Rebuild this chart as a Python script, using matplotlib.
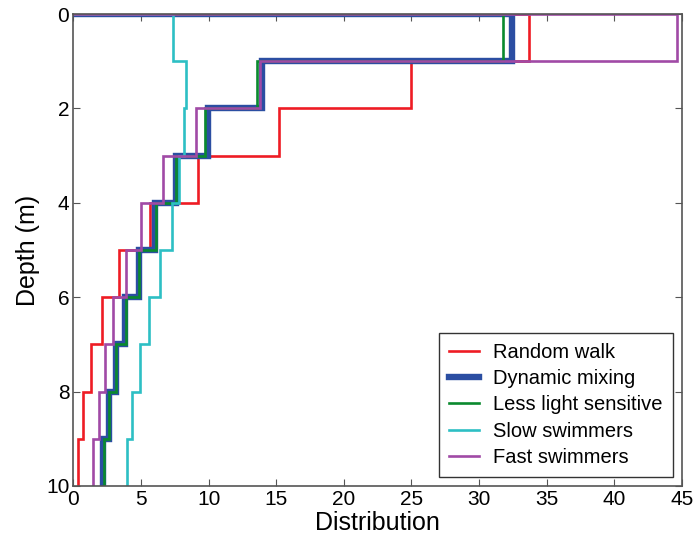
import numpy as np
import matplotlib
matplotlib.use("Agg")
import matplotlib.pyplot as plt

# --- Data: distribution per 1 m depth layer (0-1, 1-2, ..., 9-10 m) ---
depth_edges = [0, 1, 2, 3, 4, 5, 6, 7, 8, 9, 10]

random_walk = [33.7, 25.0, 15.2, 9.2, 5.65, 3.35, 2.1, 1.27, 0.71, 0.34]
dynamic_mixing = [32.4, 13.95, 9.95, 7.6, 6.03, 4.83, 3.8, 3.16, 2.6, 2.18]
less_light = [31.8, 13.6, 9.7, 7.55, 6.1, 4.83, 3.9, 3.16, 2.6, 2.23]
slow_swimmers = [7.37, 8.3, 8.18, 7.77, 7.27, 6.42, 5.56, 4.93, 4.34, 3.94]
fast_swimmers = [44.6, 13.8, 9.04, 6.6, 5.0, 3.85, 2.96, 2.3, 1.86, 1.44]

labels = ["Random walk", "Dynamic mixing", "Less light sensitive",
          "Slow swimmers", "Fast swimmers"]
series = [random_walk, dynamic_mixing, less_light, slow_swimmers, fast_swimmers]
colors = ["#ee1c24", "#2b4ea2", "#0a8a2e", "#2dbfc4", "#a04aa6"]
widths = [1.9, 4.6, 1.9, 1.9, 1.9]

plt.rcParams['font.family'] = ['Liberation Sans', 'DejaVu Sans']

fig = plt.figure(figsize=(6.93, 5.43), dpi=100)
ax = fig.add_axes([0.106, 0.105, 0.878, 0.869])


def step_path(values):
    # start at the surface from x=0, then one vertical run per layer
    xs = [0.0]
    ys = [depth_edges[0]]
    for i, v in enumerate(values):
        xs += [v, v]
        ys += [depth_edges[i], depth_edges[i + 1]]
    return xs, ys


for vals, lab, c, lw in zip(series, labels, colors, widths):
    xs, ys = step_path(vals)
    ax.plot(xs, ys, color=c, lw=lw, label=lab, solid_joinstyle='miter')

ax.set_xlim(0, 45)
ax.set_ylim(10, 0)
ax.set_xticks(np.arange(0, 46, 5))
ax.set_yticks(np.arange(0, 11, 2))
ax.tick_params(direction='in', top=True, right=True, length=5,
               labelsize=15, color='#555555', pad=3)
for sp in ax.spines.values():
    sp.set_color('#555555')
    sp.set_linewidth(1.2)

ax.set_xlabel("Distribution", fontsize=18, labelpad=1)
ax.set_ylabel("Depth (m)", fontsize=18, labelpad=4)

leg = ax.legend(loc='lower right', fontsize=14.5, frameon=True, fancybox=False,
                edgecolor='black', borderpad=0.5, labelspacing=0.36,
                handlelength=1.5, handletextpad=0.7, borderaxespad=0.45)
leg.get_frame().set_linewidth(1.0)

fig.savefig("out.png", dpi=100)
